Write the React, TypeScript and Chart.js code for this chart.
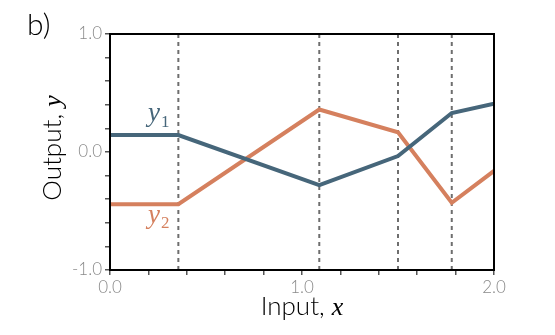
import React, { useEffect, useRef } from "react";
import { Chart, registerables } from "chart.js";

Chart.register(...registerables);

// ---- data ----
const xBreaks = [0, 0.356, 1.09, 1.5, 1.78, 2.0];
const y1Values = [0.144, 0.144, -0.28, -0.034, 0.33, 0.41];
const y2Values = [-0.443, -0.443, 0.36, 0.167, -0.43, -0.16];
const dashedX = [0.356, 1.09, 1.5, 1.78];
const xTickLabels = ["0.0", "1.0", "2.0"];
const yTickLabels = ["-1.0", "0.0", "1.0"];
const panelLabel = "b)";
const xTitle = ["Input, ", "x"];
const yTitle = ["Output, ", "y"];
const seriesNames = ["y", "1", "y", "2"];

const BLUE = "#46667a";
const ORANGE = "#d5805e";
const SANS = "Lato, 'Noto Sans', sans-serif";
const SERIF = "'Liberation Serif', serif";

function drawMixed(ctx: CanvasRenderingContext2D, parts: { t: string; f: string }[], x: number, y: number, align: "center" | "left") {
  let total = 0;
  const widths = parts.map((p) => {
    ctx.font = p.f;
    const w = ctx.measureText(p.t).width;
    total += w;
    return w;
  });
  let cx = align === "center" ? x - total / 2 : x;
  parts.forEach((p, i) => {
    ctx.font = p.f;
    ctx.fillText(p.t, cx, y);
    cx += widths[i];
  });
}

const decorPlugin = {
  id: "decor",
  afterDraw(chart: any) {
    const { ctx, chartArea, scales } = chart;
    const xs = scales.x;
    const ys = scales.y;
    ctx.save();
    // box
    ctx.strokeStyle = "#000";
    ctx.lineWidth = 2;
    ctx.strokeRect(chartArea.left, chartArea.top, chartArea.right - chartArea.left, chartArea.bottom - chartArea.top);
    ctx.textAlign = "left";
    ctx.textBaseline = "alphabetic";
    // panel label
    ctx.fillStyle = "#000";
    ctx.font = `300 30px ${SANS}`;
    ctx.fillText(panelLabel, 27, 35);
    // x title
    const cxMid = (chartArea.left + chartArea.right) / 2;
    drawMixed(
      ctx,
      [
        { t: xTitle[0], f: `normal 300 26px ${SANS}` },
        { t: xTitle[1], f: `italic 400 26px ${SERIF}` },
      ],
      cxMid,
      315,
      "center"
    );
    // y title
    ctx.save();
    ctx.translate(61, (chartArea.top + chartArea.bottom) / 2 - 4);
    ctx.rotate(-Math.PI / 2);
    drawMixed(
      ctx,
      [
        { t: yTitle[0], f: `normal 300 26px ${SANS}` },
        { t: yTitle[1], f: `italic 400 26px ${SERIF}` },
      ],
      0,
      0,
      "center"
    );
    ctx.restore();
    // series labels
    const lx = xs.getPixelForValue(0.198);
    ctx.fillStyle = BLUE;
    ctx.font = `italic 400 27px ${SERIF}`;
    const yw = ctx.measureText(seriesNames[0]).width;
    const b1 = ys.getPixelForValue(0.265);
    ctx.fillText(seriesNames[0], lx, b1);
    ctx.font = `normal 400 17px ${SERIF}`;
    ctx.fillText(seriesNames[1], lx + yw + 1, b1 + 6);
    ctx.fillStyle = ORANGE;
    ctx.font = `italic 400 27px ${SERIF}`;
    const b2 = ys.getPixelForValue(-0.6);
    ctx.fillText(seriesNames[2], lx, b2);
    ctx.font = `normal 400 17px ${SERIF}`;
    ctx.fillText(seriesNames[3], lx + yw + 1, b2 + 5);
    ctx.restore();
  },
};

function labelFor(v: number, labels: string[], min: number) {
  const r = Math.round(v);
  if (Math.abs(v - r) < 1e-6) return labels[r - min] ?? "";
  return "";
}

export default function App() {
  const ref = useRef<HTMLCanvasElement | null>(null);
  useEffect(() => {
    if (!ref.current) return;
    const dashSets = dashedX.map((dx) => ({
      data: [
        { x: dx, y: -1 },
        { x: dx, y: 1 },
      ],
      borderColor: "#6e6e6e",
      borderWidth: 2,
      borderDash: [4, 4],
      pointRadius: 0,
      order: 3,
      showLine: true,
    }));
    const chart = new Chart(ref.current, {
      type: "scatter",
      data: {
        datasets: [
          {
            data: xBreaks.map((x, i) => ({ x, y: y1Values[i] })),
            borderColor: BLUE,
            borderWidth: 4,
            pointRadius: 0,
            showLine: true,
            order: 1,
          },
          {
            data: xBreaks.map((x, i) => ({ x, y: y2Values[i] })),
            borderColor: ORANGE,
            borderWidth: 4,
            pointRadius: 0,
            showLine: true,
            order: 2,
          },
          ...dashSets,
        ] as any,
      },
      options: {
        animation: false,
        responsive: false,
        events: [],
        layout: { padding: { top: 34, right: 61, bottom: 0, left: 0 } },
        plugins: { legend: { display: false }, tooltip: { enabled: false } },
        scales: {
          x: {
            type: "linear",
            min: 0,
            max: 2,
            border: { display: false },
            grid: { drawOnChartArea: false, drawTicks: true, tickLength: 5, color: "#555", lineWidth: 1.5 },
            ticks: {
              stepSize: 0.2,
              autoSkip: false,
              maxRotation: 0,
              padding: 2,
              color: "#8a8a8a",
              font: { family: SANS, size: 17, weight: "300" },
              callback: (v: any) => labelFor(Number(v), xTickLabels, 0),
            },
            afterFit: (s: any) => {
              s.height = 65;
            },
          },
          y: {
            type: "linear",
            min: -1,
            max: 1,
            border: { display: false },
            grid: { drawOnChartArea: false, drawTicks: true, tickLength: 5, color: "#555", lineWidth: 1.5 },
            ticks: {
              stepSize: 0.2,
              autoSkip: false,
              padding: 3,
              color: "#8a8a8a",
              font: { family: SANS, size: 17, weight: "300" },
              callback: (v: any) => labelFor(Number(v), yTickLabels, -1),
            },
            afterFit: (s: any) => {
              s.width = 110;
            },
          },
        },
      } as any,
      plugins: [decorPlugin],
    });
    return () => chart.destroy();
  }, []);
  return (
    <div style={{ position: "absolute", left: 0, top: 0, width: 555, height: 335 }}>
      <canvas ref={ref} width={555} height={335} style={{ display: "block" }} />
    </div>
  );
}
